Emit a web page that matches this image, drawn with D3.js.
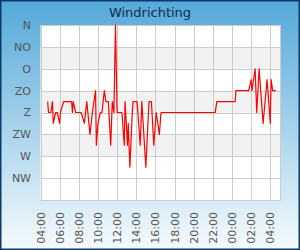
<!DOCTYPE html>
<html>
<head>
<meta charset="utf-8">
<script src="https://cdn.jsdelivr.net/npm/d3@7"></script>
<style>
  body { margin: 0; }
  svg { display: block; font-family: "DejaVu Sans", sans-serif; }
</style>
</head>
<body>
<div id="chart"></div>
<script>
// tijdstippen (HH:MM, loopt over middernacht heen) en windrichting in graden
const times = ["04:45","04:50","05:05","05:15","05:20","05:35","05:45","06:00","06:05","06:25",
  "07:15","07:20","07:25","07:40","08:15","08:35","08:50","09:10","09:25","09:45",
  "09:50","10:00","10:15","10:25","10:40","10:50","11:05","11:20","11:30","11:40",
  "11:50","12:00","12:30","12:45","12:50","13:05","13:10","13:20","13:35","13:40",
  "14:05","14:25","14:35","15:00","15:20","15:35","15:50","16:05","16:25","16:35",
  "22:15","22:25","00:20","00:25","01:45","02:00","02:05","02:25","02:35","02:50",
  "03:15","03:40","04:00","04:05","04:15","04:35"];
const directions = [157.5,180,180,157.5,202.5,180,180,202.5,180,157.5,
  157.5,180,157.5,180,180,202.5,157.5,225,180,135,
  247.5,202.5,180,180,135,157.5,157.5,247.5,157.5,180,
  0,180,180,247.5,157.5,247.5,202.5,292.5,180,157.5,
  157.5,247.5,157.5,292.5,157.5,157.5,247.5,180,225,180,
  180,157.5,157.5,135,135,112.5,135,90,180,90,
  202.5,112.5,202.5,112.5,135,135];

const dirTicks = [0, 45, 90, 135, 180, 225, 270, 315];
const dirLabels = ["N", "NO", "O", "ZO", "Z", "ZW", "W", "NW"];

const width = 300, height = 250;
const margin = { top: 25, right: 19.5, bottom: 50, left: 40.5 };

// tijden omzetten naar Date, met dagovergang
let day = 1, prev = -1;
const data = times.map((t, i) => {
  const [h, m] = t.split(":").map(Number);
  const mins = h * 60 + m;
  if (mins < prev) day++;
  prev = mins;
  return { date: new Date(2024, 0, day, h, m), dir: directions[i] };
});

const svg = d3.select("#chart").append("svg")
  .attr("width", width)
  .attr("height", height);

const defs = svg.append("defs");
const grad = defs.append("linearGradient")
  .attr("id", "bg")
  .attr("x1", 0).attr("y1", 0).attr("x2", 0).attr("y2", 1);
grad.append("stop").attr("offset", "0%").attr("stop-color", "#54a8d9");
grad.append("stop").attr("offset", "100%").attr("stop-color", "#f6fbfd");

svg.append("rect")
  .attr("x", 0.75).attr("y", 0.75)
  .attr("width", width - 1.5).attr("height", height - 1.5)
  .attr("fill", "url(#bg)")
  .attr("stroke", "#0b3a6b")
  .attr("stroke-width", 1.5);

svg.append("text")
  .attr("x", width / 2)
  .attr("y", 17)
  .attr("text-anchor", "middle")
  .style("font-size", "13px")
  .attr("fill", "#0e2d4f")
  .text("Windrichting");

const x = d3.scaleTime()
  .domain([new Date(2024, 0, 1, 4, 0), new Date(2024, 0, 2, 5, 4)])
  .range([margin.left, width - margin.right]);

const y = d3.scaleLinear()
  .domain([0, 360])
  .range([margin.top, height - margin.bottom]);

// plotvlak
svg.append("rect")
  .attr("x", margin.left).attr("y", margin.top)
  .attr("width", x.range()[1] - x.range()[0])
  .attr("height", y.range()[1] - y.range()[0])
  .attr("fill", "#fff");

// grijze banden
const bands = [45, 135, 225];
svg.append("g").selectAll("rect")
  .data(bands)
  .join("rect")
  .attr("x", margin.left)
  .attr("y", d => y(d))
  .attr("width", x.range()[1] - x.range()[0])
  .attr("height", d => y(d + 45) - y(d))
  .attr("fill", "#f2f2f2");

// horizontale rasterlijnen
svg.append("g").selectAll("line")
  .data(dirTicks.concat([360]))
  .join("line")
  .attr("x1", margin.left).attr("x2", x.range()[1])
  .attr("y1", d => Math.round(y(d)) + 0.5).attr("y2", d => Math.round(y(d)) + 0.5)
  .attr("stroke", "#cccccc");

// verticale rasterlijnen
const xTicks = x.ticks(d3.timeHour.every(2));
svg.append("g").selectAll("line")
  .data(xTicks)
  .join("line")
  .attr("x1", d => Math.round(x(d)) + 0.5).attr("x2", d => Math.round(x(d)) + 0.5)
  .attr("y1", y.range()[0]).attr("y2", y.range()[1])
  .attr("stroke", "#cccccc");

svg.append("line")
  .attr("x1", x.range()[1]).attr("x2", x.range()[1])
  .attr("y1", y.range()[0]).attr("y2", y.range()[1])
  .attr("stroke", "#cccccc");

// y-labels
svg.append("g").selectAll("text")
  .data(dirTicks)
  .join("text")
  .attr("x", 31)
  .attr("y", d => y(d))
  .attr("dy", "0.36em")
  .attr("text-anchor", "end")
  .style("font-size", "11px")
  .attr("fill", "#555")
  .text((d, i) => dirLabels[i]);

// x-labels, gedraaid
const fmt = d3.timeFormat("%H:%M");
svg.append("g").selectAll("text")
  .data(xTicks)
  .join("text")
  .attr("transform", d => `translate(${x(d) + 4},212) rotate(-90)`)
  .attr("text-anchor", "end")
  .style("font-size", "11px")
  .attr("fill", "#555")
  .text(d => fmt(d));

// lijn
const line = d3.line()
  .x(d => x(d.date))
  .y(d => y(d.dir));

svg.append("path")
  .datum(data)
  .attr("d", line)
  .attr("fill", "none")
  .attr("stroke", "#ff0000")
  .attr("stroke-width", 1.2)
  .attr("stroke-linejoin", "round");
</script>
</body>
</html>
